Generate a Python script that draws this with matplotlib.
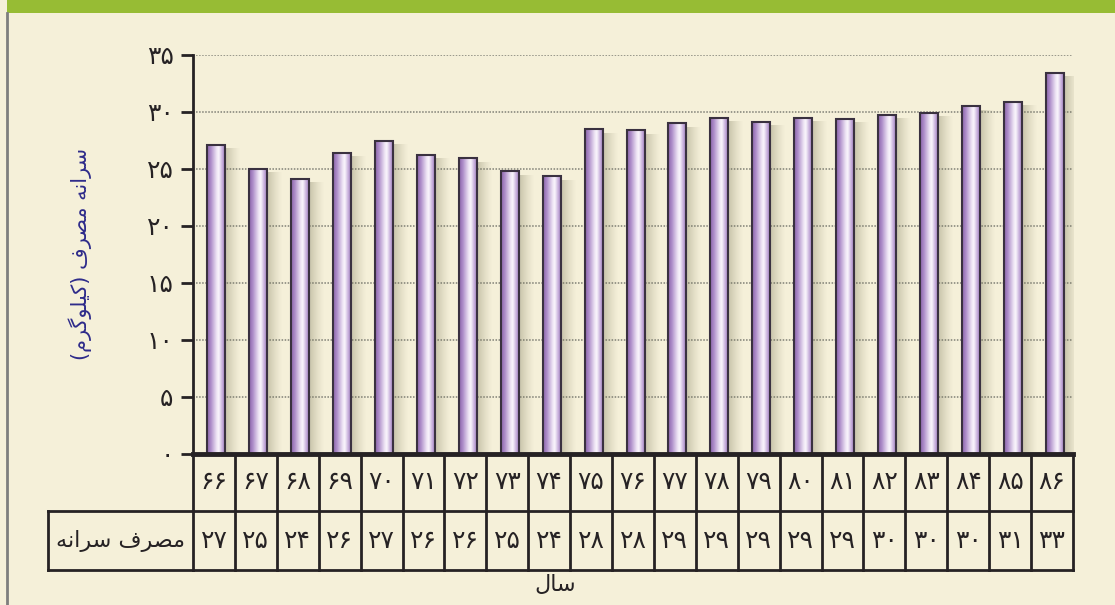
import numpy as np
import matplotlib.pyplot as plt
from matplotlib import transforms
from matplotlib.colors import LinearSegmentedColormap
from matplotlib.lines import Line2D
from matplotlib.patches import Rectangle

# سرانه مصرف سالانه (کیلوگرم) برای سال‌های ۶۶ تا ۸۶
years = [66, 67, 68, 69, 70, 71, 72, 73, 74, 75, 76,
         77, 78, 79, 80, 81, 82, 83, 84, 85, 86]
consumption = [27.1, 25.0, 24.1, 26.4, 27.45, 26.2, 25.9, 24.75, 24.3, 28.45, 28.35,
               28.95, 29.45, 29.1, 29.45, 29.35, 29.7, 29.9, 30.45, 30.85, 33.4]
y_ticks = [0, 5, 10, 15, 20, 25, 30, 35]

y_title = "سرانه مصرف (کیلوگرم)"
row_title = "مصرف سرانه"
x_title = "سال"

BG = "#f5f0d9"
INK = "#262224"

FA_DIGITS = str.maketrans("0123456789", "۰۱۲۳۴۵۶۷۸۹")

# شکل‌های ارائه‌ای حروف: (تنها، پایانی، آغازی، میانی)
FORMS = {
    "ا": ("\ufe8d", "\ufe8e", None, None),
    "ر": ("\ufead", "\ufeae", None, None),
    "و": ("\ufeed", "\ufeee", None, None),
    "س": ("\ufeb1", "\ufeb2", "\ufeb3", "\ufeb4"),
    "ص": ("\ufeb9", "\ufeba", "\ufebb", "\ufebc"),
    "ن": ("\ufee5", "\ufee6", "\ufee7", "\ufee8"),
    "ه": ("\ufee9", "\ufeea", "\ufeeb", "\ufeec"),
    "م": ("\ufee1", "\ufee2", "\ufee3", "\ufee4"),
    "ف": ("\ufed1", "\ufed2", "\ufed3", "\ufed4"),
    "ل": ("\ufedd", "\ufede", "\ufedf", "\ufee0"),
    "ک": ("\ufb8e", "\ufb8f", "\ufb90", "\ufb91"),
    "گ": ("\ufb92", "\ufb93", "\ufb94", "\ufb95"),
    "ی": ("\ufbfc", "\ufbfd", "\ufbfe", "\ufbff"),
}


def shape(text):
    """اتصال حروف و چیدن راست به چپ برای matplotlib"""
    out = []
    for i, ch in enumerate(text):
        if ch not in FORMS:
            out.append(ch)
            continue
        prev = text[i - 1] if i > 0 else ""
        nxt = text[i + 1] if i + 1 < len(text) else ""
        iso, fin, ini, med = FORMS[ch]
        join_prev = prev in FORMS and FORMS[prev][2] is not None
        join_next = nxt in FORMS and ini is not None
        if join_prev and join_next:
            out.append(med)
        elif join_prev:
            out.append(fin)
        elif join_next:
            out.append(ini)
        else:
            out.append(iso)
    visual = "".join(reversed(out))
    return visual.translate(str.maketrans("()", ")("))


def fa(n):
    return str(n).translate(FA_DIGITS)


plt.rcParams["font.family"] = ["DejaVu Sans"]

W, H = 1115, 605
fig = plt.figure(figsize=(W / 100, H / 100), dpi=100, facecolor=BG)
ax = fig.add_axes([193 / W, 1 - 453.5 / H, 880 / W, 399 / H], facecolor=BG)

x = np.arange(len(years))

# میله‌ها با سایه و گرادیان استوانه‌ای
bar_cmap = LinearSegmentedColormap.from_list("lilac", [
    (0.0, "#8a63ab"), (0.22, "#b192cc"), (0.5, "#ece2f3"),
    (0.62, "#faf6fc"), (0.84, "#c0a5d7"), (1.0, "#8f6cb0")])
grad = np.linspace(0, 1, 64).reshape(1, -1)
shade = np.zeros((1, 32, 4))
shade[..., :3] = (0.45, 0.44, 0.32)
shade[..., 3] = np.linspace(0.45, 0.0, 32) ** 1.3

bw, off = 0.43, 0.06
for xi, v in zip(x, consumption):
    x0, x1 = xi + off - bw / 2, xi + off + bw / 2
    ax.imshow(shade, extent=[x1, x1 + 0.36, 0, v - 0.4], aspect="auto",
              interpolation="bilinear", zorder=2)
    ax.imshow(grad, extent=[x0, x1, 0, v], cmap=bar_cmap, aspect="auto",
              interpolation="bilinear", zorder=3)
    ax.add_patch(Rectangle((x0, 0), bw, v, fill=False, edgecolor="#3a3140",
                           lw=1.5, zorder=4))
ax.set_xlim(-0.5, len(years) - 0.5)
ax.set_ylim(0, 35)

ax.set_yticks(y_ticks)
ax.set_yticklabels([fa(t) for t in y_ticks], fontsize=18, color=INK)
ax.set_xticks([])
ax.tick_params(axis="y", length=9, width=2, color=INK, pad=5)
ax.yaxis.grid(True, linestyle=(0, (1, 1)), color="#808076", lw=1.1)
ax.set_axisbelow(True)
for s in ("top", "right"):
    ax.spines[s].set_visible(False)
ax.spines["left"].set_linewidth(2)
ax.spines["left"].set_color(INK)
ax.spines["bottom"].set_linewidth(3.5)
ax.spines["bottom"].set_color(INK)
ax.spines["bottom"].set_zorder(5)

ax.set_ylabel(shape(y_title), fontsize=15, color="#2e2b8a")
ax.yaxis.set_label_coords(-0.115, 0.5)

# جدول زیر نمودار: ردیف سال و ردیف سرانه مصرف
blend = transforms.blended_transform_factory(ax.transData, fig.transFigure)
r0, r1, r2 = 1 - 453.5 / H, 1 - 511 / H, 1 - 570 / H
n = len(years)
lk = dict(color=INK, lw=2, solid_capstyle="projecting")
for i in range(n + 1):
    fig.add_artist(Line2D([i - 0.5, i - 0.5], [r2, r0], transform=blend, **lk))
fig.add_artist(Line2D([-0.5, n - 0.5], [r1, r1], transform=blend, **lk))
fig.add_artist(Line2D([-0.5, n - 0.5], [r2, r2], transform=blend, **lk))
left = 48 / W
fig.add_artist(Line2D([left, 193 / W], [r1, r1], transform=fig.transFigure, **lk))
fig.add_artist(Line2D([left, 193 / W], [r2, r2], transform=fig.transFigure, **lk))
fig.add_artist(Line2D([left, left], [r2, r1], transform=fig.transFigure, **lk))

for xi, yr, v in zip(x, years, consumption):
    fig.text(xi, (r0 + r1) / 2, fa(yr), transform=blend, ha="center", va="center",
             fontsize=18, color=INK)
    fig.text(xi, (r1 + r2) / 2, fa(int(v + 0.5)), transform=blend, ha="center",
             va="center", fontsize=18, color=INK)
fig.text((48 + 193) / 2 / W, (r1 + r2) / 2, shape(row_title), ha="center", va="center",
         fontsize=16, color=INK)
fig.text(555 / W, 1 - 585 / H, shape(x_title), ha="center", va="center",
         fontsize=16, color=INK)

# نوار سبز بالا و قاب خاکستری کنار
fig.add_artist(Rectangle((7 / W, 1 - 13 / H), 1, 13 / H, transform=fig.transFigure,
                         color="#97bc34", lw=0))
fig.add_artist(Line2D([7 / W, 7 / W], [0, 1 - 13 / H], transform=fig.transFigure,
                      color="#7e7e7e", lw=2))

fig.savefig("out.png", dpi=100, facecolor=BG)
